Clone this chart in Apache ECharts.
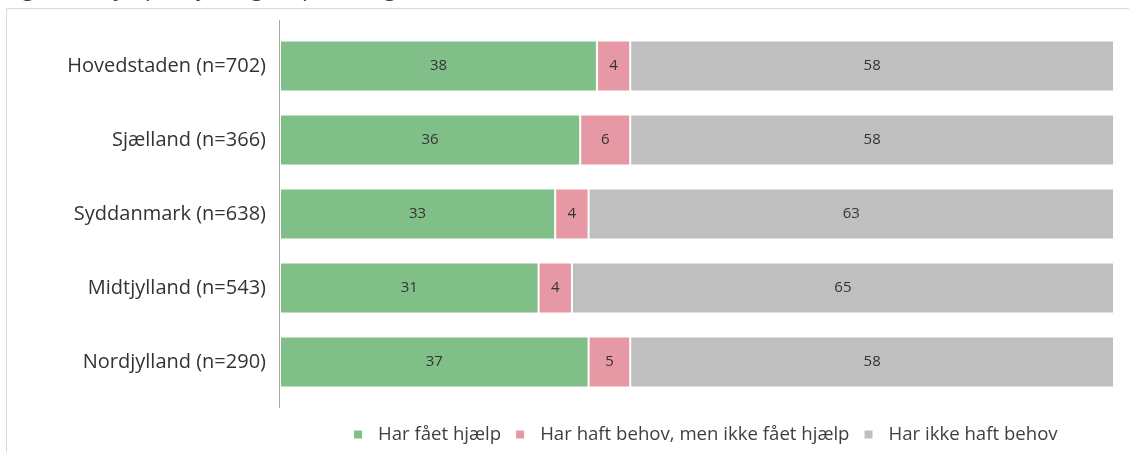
<!DOCTYPE html>
<html>
<head>
<meta charset="utf-8">
<script src="https://cdn.jsdelivr.net/npm/echarts@6/dist/echarts.min.js"></script>
<style>
  html, body { margin: 0; padding: 0; background: #fff; }
  #chart { width: 1129px; height: 452px; }
</style>
</head>
<body>
<div id="chart"></div>
<script>
(function(){
  // data
  var regions = ['Hovedstaden (n=702)', 'Sjælland (n=366)', 'Syddanmark (n=638)', 'Midtjylland (n=543)', 'Nordjylland (n=290)'];
  var seriesNames = ['Har fået hjælp', 'Har haft behov, men ikke fået hjælp', 'Har ikke haft behov'];
  var faaetHjaelp = [38, 36, 33, 31, 37];
  var behovIkkeHjaelp = [4, 6, 4, 4, 5];
  var ikkeBehov = [58, 58, 63, 65, 58];
  var colors = ['#80c088', '#e698a4', '#bfbfbf'];
  var titleText = 'Figur 11: Hjælp til fysisk genoptræning P = 0,2911';

  var font = '"Open Sans", "Noto Sans", sans-serif';
  var myChart = echarts.init(document.getElementById('chart'));

  function barSeries(name, data) {
    return {
      name: name,
      type: 'bar',
      stack: 'total',
      barWidth: 51,
      data: data,
      itemStyle: { borderColor: '#ffffff', borderWidth: 1 },
      label: {
        show: true,
        position: 'inside',
        color: '#333',
        fontSize: 15,
        fontFamily: font
      }
    };
  }

  var option = {
    animation: false,
    color: colors,
    textStyle: { fontFamily: font },
    graphic: [
      // frame
      { type: 'rect', shape: { x: 6.5, y: 8.5, width: 1200, height: 500 },
        style: { fill: 'none', stroke: '#d9d9d9', lineWidth: 1 }, silent: true },
      // cut-off title
      { type: 'text', left: 5, top: -21,
        style: { text: titleText, fontSize: 22, fontFamily: font, fill: '#333' }, silent: true },
      // vertical axis line (extends past the category bands)
      { type: 'line', shape: { x1: 279.5, y1: 20, x2: 279.5, y2: 408 },
        style: { stroke: '#a6a6a6', lineWidth: 1 }, silent: true }
    ],
    legend: {
      left: 347,
      top: 420,
      itemWidth: 10,
      itemHeight: 10,
      itemGap: 13,
      icon: 'rect',
      textStyle: { fontSize: 18.6, color: '#404040', fontFamily: font, padding: [0, 0, 0, 10] },
      data: seriesNames
    },
    grid: {
      left: 280,
      right: 15,
      top: 29,
      height: 370
    },
    xAxis: {
      type: 'value',
      min: 0,
      max: 100,
      show: false
    },
    yAxis: {
      type: 'category',
      inverse: true,
      data: regions,
      axisLine: { show: false },
      axisTick: { show: false },
      axisLabel: {
        color: '#333',
        fontSize: 20,
        fontFamily: font,
        margin: 14
      }
    },
    series: [
      barSeries(seriesNames[0], faaetHjaelp),
      barSeries(seriesNames[1], behovIkkeHjaelp),
      barSeries(seriesNames[2], ikkeBehov)
    ]
  };

  myChart.setOption(option);

  window.addEventListener('resize', function() {
    myChart.resize();
  });
})();
</script>
</body>
</html>
